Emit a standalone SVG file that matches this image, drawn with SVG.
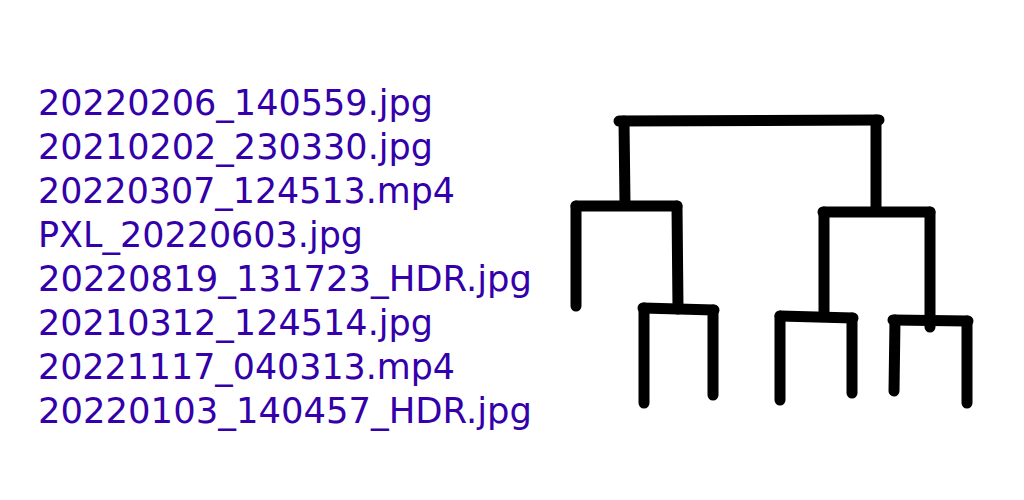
<svg xmlns="http://www.w3.org/2000/svg" width="1024" height="500" viewBox="0 0 1024 500">
<style>
.lbl{font-family:"DejaVu Sans","Verdana",sans-serif;font-size:35px;fill:#3300aa}
.ln{stroke:#000;stroke-width:11;stroke-linecap:round;stroke-linejoin:round;fill:none}
</style>
<rect width="1024" height="500" fill="#fff"/>
<g id="labels">
<text id="f1" class="lbl" x="38" y="115" textLength="395" lengthAdjust="spacingAndGlyphs">20220206_140559.jpg</text>
<text id="f2" class="lbl" x="38" y="159" textLength="395" lengthAdjust="spacingAndGlyphs">20210202_230330.jpg</text>
<text id="f3" class="lbl" x="38" y="203" textLength="417" lengthAdjust="spacingAndGlyphs">20220307_124513.mp4</text>
<text id="f4" class="lbl" x="38" y="247" textLength="325" lengthAdjust="spacingAndGlyphs">PXL_20220603.jpg</text>
<text id="f5" class="lbl" x="38" y="291" textLength="494" lengthAdjust="spacingAndGlyphs">20220819_131723_HDR.jpg</text>
<text id="f6" class="lbl" x="38" y="335" textLength="395" lengthAdjust="spacingAndGlyphs">20210312_124514.jpg</text>
<text id="f7" class="lbl" x="38" y="379" textLength="417" lengthAdjust="spacingAndGlyphs">20221117_040313.mp4</text>
<text id="f8" class="lbl" x="38" y="423" textLength="494" lengthAdjust="spacingAndGlyphs">20220103_140457_HDR.jpg</text>
</g>
<g id="connectors" class="ln">
<path d="M619,121 L879,120"/>
<path d="M624,121 L625,204"/>
<path d="M876,120 L876,210"/>
<path d="M576,206 L677,206"/>
<path d="M576,206 L576,306"/>
<path d="M677,206 L678,309"/>
<path d="M643,308 L714,310"/>
<path d="M644,308 L644,403"/>
<path d="M713,310 L713,395"/>
<path d="M823,212 L930,212"/>
<path d="M824,212 L824,316"/>
<path d="M780,316 L853,318"/>
<path d="M780,316 L780,400"/>
<path d="M852,318 L852,393"/>
<path d="M930,212 L930,327"/>
<path d="M893,320 L968,321"/>
<path d="M895,320 L894,391"/>
<path d="M967,321 L967,403"/>
</g>
</svg>
